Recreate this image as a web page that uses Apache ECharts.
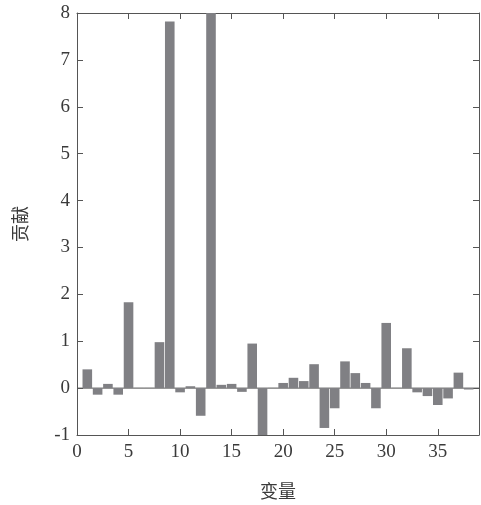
<!DOCTYPE html>
<html>
<head>
<meta charset="utf-8">
<script src="https://cdn.jsdelivr.net/npm/echarts@6/dist/echarts.min.js"></script>
<style>
  html, body { margin: 0; padding: 0; background: #fff; }
  #chart { width: 481px; height: 505px; }
</style>
</head>
<body>
<div id="chart"></div>
<script>
// Variable index and its contribution
const variables = [1, 2, 3, 4, 5, 6, 7, 8, 9, 10, 11, 12, 13, 14, 15, 16, 17, 18, 19,
  20, 21, 22, 23, 24, 25, 26, 27, 28, 29, 30, 31, 32, 33, 34, 35, 36, 37, 38];
const contributions = [0.40, -0.14, 0.09, -0.14, 1.83, 0.005, 0.005, 0.98, 7.82, -0.09,
  0.04, -0.59, 9.5, 0.07, 0.09, -0.08, 0.95, -1.2, 0.005,
  0.11, 0.22, 0.15, 0.51, -0.85, -0.43, 0.57, 0.32, 0.11, -0.43, 1.39,
  0.005, 0.85, -0.09, -0.17, -0.36, -0.22, 0.33, -0.03];

const xTicks = { min: 0, max: 39, interval: 5 };
const yTicks = { min: -1, max: 8, interval: 1 };

const axisColor = '#555555';
const textColor = '#3a3a3a';
const serif = '"Liberation Serif", "DejaVu Serif", serif';
const cjk = '"Noto Sans CJK SC", sans-serif';

const points = variables.map((v, i) => [v, contributions[i]]);

const chart = echarts.init(document.getElementById('chart'), null, { renderer: 'canvas' });

const lineStyle = { color: axisColor, width: 1 };
chart.setOption({
  animation: false,
  grid: { left: 77, right: 2, top: 13, bottom: 69 },
  xAxis: [
    {
      type: 'value', min: xTicks.min, max: xTicks.max, interval: xTicks.interval,
      position: 'bottom',
      name: '变量', nameLocation: 'middle', nameGap: 47,
      nameTextStyle: { fontFamily: cjk, fontSize: 18, color: textColor },
      axisLine: { show: true, onZero: false, lineStyle },
      axisTick: { show: true, inside: true, length: 6, lineStyle },
      axisLabel: { fontFamily: serif, fontSize: 19, color: textColor, margin: 8, showMaxLabel: false },
      splitLine: { show: false }
    },
    {
      type: 'value', min: xTicks.min, max: xTicks.max, interval: xTicks.interval,
      position: 'top',
      axisLine: { show: true, onZero: false, lineStyle },
      axisTick: { show: true, inside: true, length: 6, lineStyle },
      axisLabel: { show: false },
      splitLine: { show: false }
    }
  ],
  yAxis: [
    {
      type: 'value', min: yTicks.min, max: yTicks.max, interval: yTicks.interval,
      position: 'left',
      name: '贡献', nameLocation: 'middle', nameGap: 48, nameRotate: 90,
      nameTextStyle: { fontFamily: cjk, fontSize: 18, color: textColor },
      axisLine: { show: true, onZero: false, lineStyle },
      axisTick: { show: true, inside: true, length: 6, lineStyle },
      axisLabel: { fontFamily: serif, fontSize: 19, color: textColor, margin: 7 },
      splitLine: { show: false }
    },
    {
      type: 'value', min: yTicks.min, max: yTicks.max, interval: yTicks.interval,
      position: 'right',
      axisLine: { show: true, onZero: false, lineStyle },
      axisTick: { show: true, inside: true, length: 6, lineStyle },
      axisLabel: { show: false },
      splitLine: { show: false }
    }
  ],
  series: [
    {
      type: 'bar',
      xAxisIndex: 0,
      yAxisIndex: 0,
      data: points,
      barWidth: 9.6,
      clip: true,
      itemStyle: { color: '#808084' }
    },
    {
      // zero reference line
      type: 'line',
      data: [[0, 0], [39, 0]],
      symbol: 'none',
      silent: true,
      z: 1,
      lineStyle: { color: axisColor, width: 1 }
    }
  ]
});
</script>
</body>
</html>
